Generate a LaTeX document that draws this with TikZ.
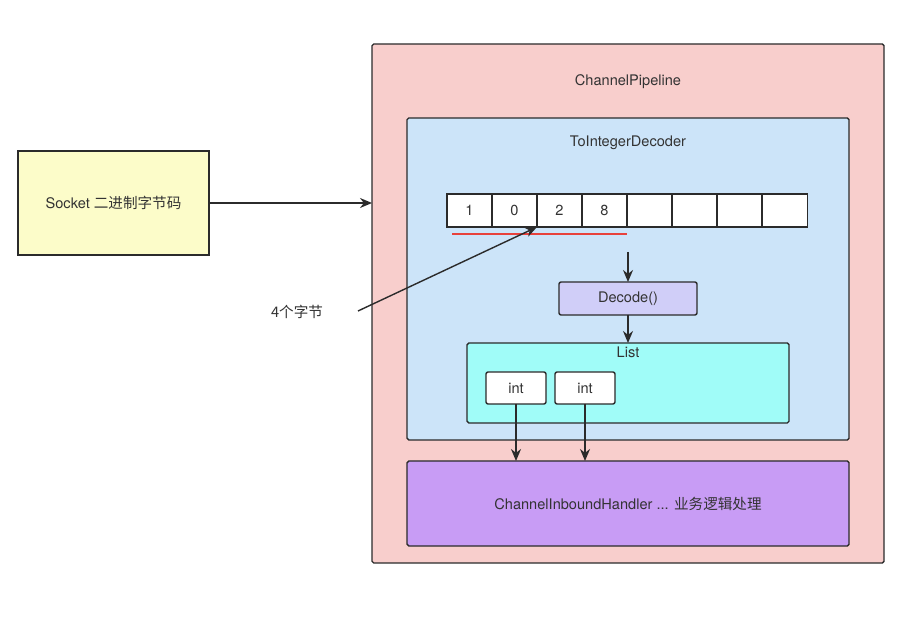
\documentclass[tikz,border=0pt]{standalone}
\usepackage{fontspec}
\setmainfont{TeX Gyre Heros}
\newfontfamily\cjk{Noto Sans CJK SC}
\usepackage{tikz}
\usetikzlibrary{arrows.meta,positioning,calc}
\definecolor{linec}{HTML}{2B2B2B}
\definecolor{textc}{HTML}{333333}
\definecolor{sockc}{HTML}{FCFCC9}
\definecolor{pipec}{HTML}{F8CECC}
\definecolor{decc}{HTML}{CCE4F9}
\definecolor{funcc}{HTML}{D0CEF8}
\definecolor{listc}{HTML}{A0FCF8}
\definecolor{hdlc}{HTML}{C89CF5}
\definecolor{markc}{HTML}{E8413C}
\tikzset{
  >={Stealth[length=2.4mm,width=2mm]},
  box/.style={draw=linec,line width=0.8pt,outer sep=0pt,inner sep=0pt,text=textc,font=\fontsize{8.3}{10}\selectfont},
  rbox/.style={box,rounded corners=1pt},
  bcell/.style={box,fill=white,minimum width=9mm,minimum height=6.6mm},
  lbl/.style={text=textc,font=\fontsize{8.3}{10}\selectfont,inner sep=1pt},
  arr/.style={->,line width=0.8pt,draw=linec},
  redmark/.style={draw=markc,line width=0.8pt},
}
\newcommand{\bcell}[3]{\node[bcell] (#1) at (#2) {#3};}
\begin{document}
\begin{tikzpicture}[x=0.2mm,y=-0.2mm]
  \useasboundingbox (0,0) rectangle (909,622);
  % source
  \node[box,fill=sockc,minimum width=38.2mm,minimum height=20.8mm] (sock) at (113.5,203) {Socket {\cjk 二进制字节码}};
  % pipeline and decoder
  \node[rbox,fill=pipec,minimum width=102.4mm,minimum height=103.8mm] (pipe) at (628,303.5) {};
  \node[lbl] at (628,82) {ChannelPipeline};
  \node[rbox,fill=decc,minimum width=88.4mm,minimum height=64.4mm] (dec) at (628,279) {};
  \node[lbl] at (628,143) {ToIntegerDecoder};
  % byte buffer
  \bcell{c1}{469.5,210.5}{1}
  \bcell{c2}{514.5,210.5}{0}
  \bcell{c3}{559.5,210.5}{2}
  \bcell{c4}{604.5,210.5}{8}
  \bcell{c5}{649.5,210.5}{}
  \bcell{c6}{694.5,210.5}{}
  \bcell{c7}{739.5,210.5}{}
  \bcell{c8}{785,210.5}{}
  \draw[redmark] ([xshift=1mm,yshift=-1.4mm]c1.south west) -- ([yshift=-1.4mm]c4.south east);
  \node[lbl] (four) at (297,312) {\cjk 4个字节};
  \coordinate (fourtip) at (358,311);
  \draw[arr] (fourtip) -- (c2.south east);
  % decode step
  \node[rbox,fill=funcc,minimum width=27.6mm,minimum height=6.6mm,rounded corners=1.2pt] (fn) at (628,298.5) {Decode()};
  \node[rbox,fill=listc,minimum width=64.4mm,minimum height=16mm] (lst) at (628,383) {};
  \node[lbl,anchor=north] at ([yshift=-0.4mm]lst.north) {List};
  \node[rbox,fill=white,minimum width=12mm,minimum height=6.4mm,rounded corners=1.2pt] (i1) at (516,388) {int};
  \node[rbox,fill=white,minimum width=12mm,minimum height=6.4mm,rounded corners=1.2pt] (i2) at (585,388) {int};
  % handler
  \node[rbox,fill=hdlc,minimum width=88.4mm,minimum height=17mm] (hdl) at (628,503.5) {ChannelInboundHandler ... {\cjk 业务逻辑处理}};
  % connectors
  \draw[arr] (sock.east) -- (sock.east -| pipe.west);
  \draw[arr] ([yshift=6mm]fn.north) -- (fn.north);
  \draw[arr] (fn.south) -- (lst.north);
  \draw[arr] (i1.south) -- (i1.south |- hdl.north);
  \draw[arr] (i2.south) -- (i2.south |- hdl.north);
\end{tikzpicture}
\end{document}
